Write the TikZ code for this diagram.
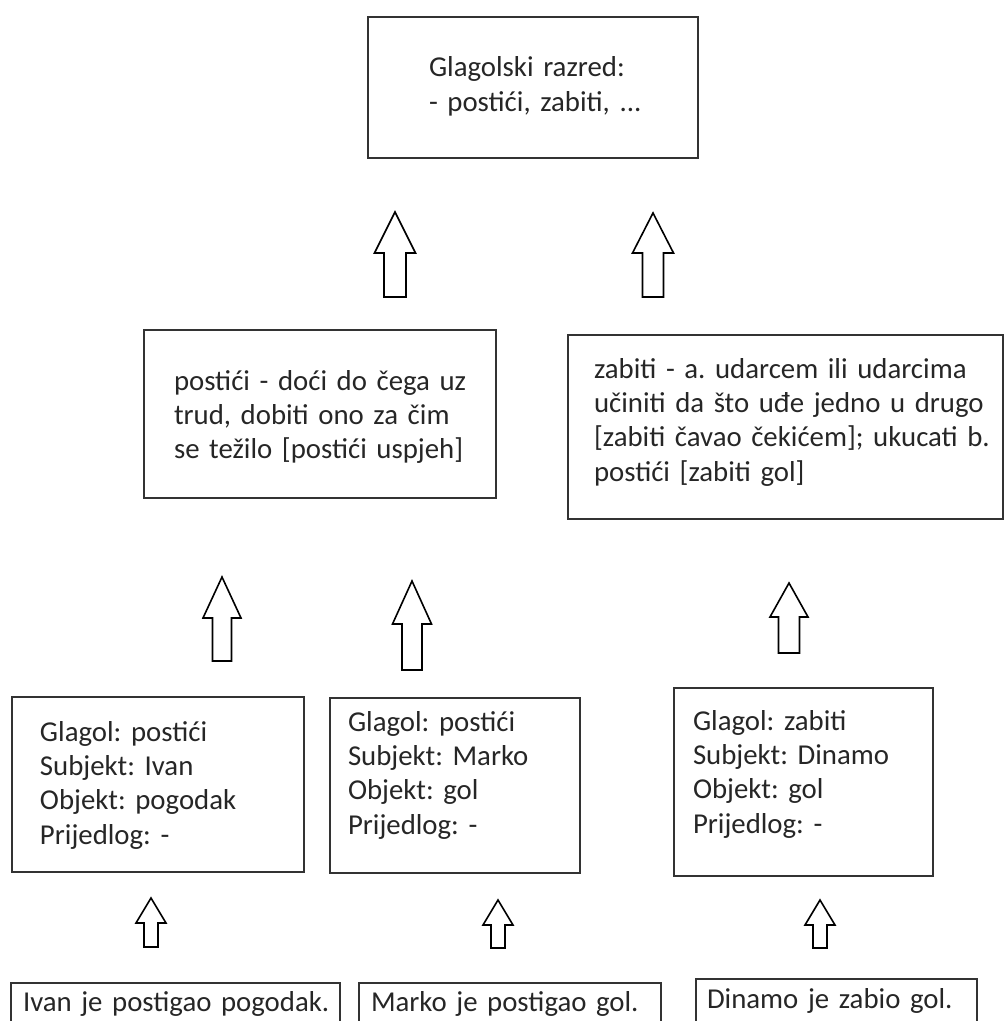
\documentclass[tikz,border=0pt]{standalone}
\usepackage{fontspec}
\setmainfont{Carlito}
\definecolor{boxline}{HTML}{333333}
\definecolor{inktext}{HTML}{262626}
\newcommand{\boxfont}{\fontsize{14.4}{17.2}\selectfont\frenchspacing}

\begin{document}
\begin{tikzpicture}[x=0.5pt,y=-0.5pt,
    entry/.style={draw=boxline,line width=1pt,anchor=north west,align=left,
      inner xsep=3pt,inner ysep=0pt,text=inktext,font=\boxfont},
    lpad/.style={execute at begin node={\leftskip=#1}},
    hollow/.style={draw=black,line width=0.8pt,fill=white}]
\useasboundingbox (0,0) rectangle (1004,1021);
\clip (0,0) rectangle (1004,1021);
% verb class
\node[entry,lpad=27.5pt,text width=159pt,text height=30pt,text depth=40.5pt] (cls) at (367,16)
  {Glagolski razred:\\- postići, zabiti, ...};
% dictionary senses
\node[entry,lpad=12pt,text width=170pt,text height=30pt,text depth=54pt] (defP) at (143,329)
  {postići - doći do čega uz\\trud, dobiti ono za čim\\se težilo [postići uspjeh]};
\node[entry,lpad=10pt,text width=211.5pt,text height=21.5pt,text depth=70.5pt] (defZ) at (567,334)
  {zabiti - a. udarcem ili udarcima\\učiniti da što uđe jedno u drugo\\{}[zabiti čavao čekićem]; ukucati b.\\postići [zabiti gol]};
% frames
\node[entry,lpad=11pt,text width=140pt,text height=22pt,text depth=65.5pt] (fI) at (11,696)
  {Glagol: postići\\Subjekt: Ivan\\Objekt: pogodak\\Prijedlog: -};
\node[entry,lpad=6pt,text width=119pt,text height=16.5pt,text depth=71pt] (fM) at (329,697)
  {Glagol: postići\\Subjekt: Marko\\Objekt: gol\\Prijedlog: -};
\node[entry,lpad=6.5pt,text width=123.5pt,text height=21pt,text depth=73pt] (fD) at (673,687)
  {Glagol: zabiti\\Subjekt: Dinamo\\Objekt: gol\\Prijedlog: -};
% sentences
\node[entry,lpad=3pt,text width=158.5pt,text height=14pt,text depth=20pt] (sI) at (10,982)
  {Ivan je postigao pogodak.};
\node[entry,lpad=3pt,text width=145pt,text height=14pt,text depth=20pt] (sM) at (358,982)
  {Marko je postigao gol.};
\node[entry,lpad=2.5pt,text width=134.5pt,text height=14.5pt,text depth=20pt] (sD) at (695,978)
  {Dinamo je zabio gol.};
% hollow up arrows: tip x/tip y/tail y/head/shaft/head length
\foreach \x/\y/\t/\h/\s/\l in {395/212/297/20.5/11/41, 653/213/297/20.5/10.5/40,
    222/577/661/19/9.5/41, 412/581/670/19.5/10/43, 789/583/653/19/10.5/34,
    151/898/947/15/7/25, 498/900/948/15/7/25, 820/900/948/15/7/25}
  \draw[hollow] (\x,\y) -- (\x+\h,\y+\l) -- (\x+\s,\y+\l) -- (\x+\s,\t)
    -- (\x-\s,\t) -- (\x-\s,\y+\l) -- (\x-\h,\y+\l) -- cycle;
\end{tikzpicture}
\end{document}
